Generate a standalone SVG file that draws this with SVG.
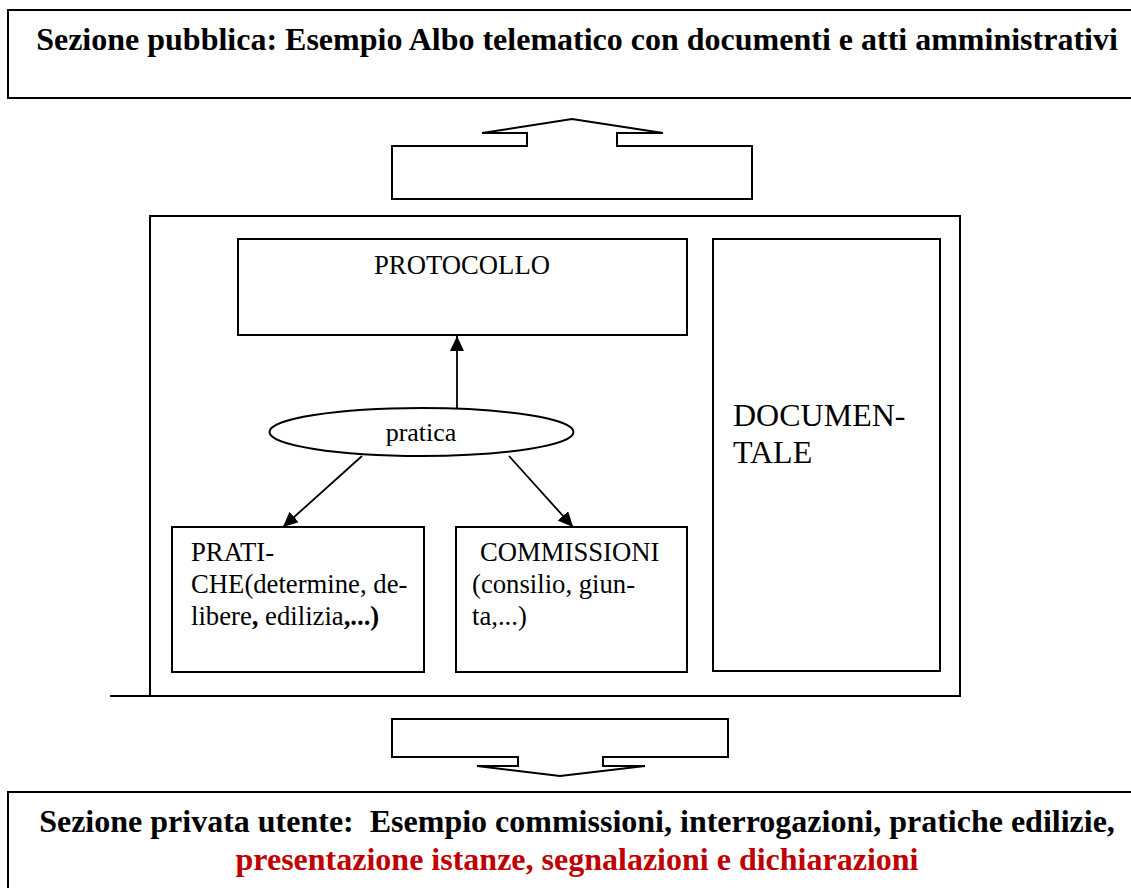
<svg xmlns="http://www.w3.org/2000/svg" width="1131" height="888" viewBox="0 0 1131 888">
<style>
.box{fill:#fff;stroke:#000;stroke-width:2}
.ln{fill:none;stroke:#000;stroke-width:2}
.con{fill:none;stroke:#000;stroke-width:1.8}
text{font-family:'Liberation Serif','Times New Roman',Times,serif;fill:#000}
.big{font-size:32px;font-weight:bold}
.mid{font-size:26.7px}
.red{fill:#C00000}
</style>
<defs>
<marker id="ah" markerUnits="userSpaceOnUse" markerWidth="16" markerHeight="14" refX="15" refY="7" orient="auto">
<path d="M0,0 L15,7 L0,14 Z" fill="#000"/>
</marker>
</defs>
<rect width="1131" height="888" fill="#fff"/>

<g id="sezione-pubblica">
<rect class="box" x="8" y="10" width="1140" height="88"/>
<text class="big" font-family="Liberation Serif, serif" x="577" y="50" text-anchor="middle">Sezione pubblica: Esempio Albo telematico con documenti e atti amministrativi</text>
</g>

<g id="freccia-su">
<path class="ln" d="M392,146 H527 V133 H482 L572,119 L663,133 H617 V146 H752 V199 H392 Z"/>
</g>

<g id="cornice">
<path class="ln" d="M150,696 V216 H960 V696 H110"/>
</g>

<g id="protocollo">
<rect class="box" x="238" y="239" width="449" height="96"/>
<text class="mid" font-family="Liberation Serif, serif" x="462" y="274" text-anchor="middle">PROTOCOLLO</text>
</g>

<g id="documentale">
<rect class="box" x="713" y="239" width="227" height="432"/>
<text font-family="Liberation Serif, serif" font-size="32" x="733" y="426">DOCUMEN-</text>
<text font-family="Liberation Serif, serif" font-size="32" x="733" y="463">TALE</text>
</g>

<g id="pratica">
<ellipse class="box" cx="421.5" cy="432" rx="152" ry="24"/>
<text font-family="Liberation Serif, serif" font-size="26" x="421" y="441" text-anchor="middle">pratica</text>
</g>

<g id="pratiche">
<rect class="box" x="172" y="527" width="252" height="145"/>
<text class="mid" font-family="Liberation Serif, serif" x="191" y="561">PRATI-</text>
<text class="mid" font-family="Liberation Serif, serif" x="191" y="593">CHE(determine, de-</text>
<text class="mid" font-family="Liberation Serif, serif" x="191" y="625">libere<tspan font-weight="bold">,</tspan> edilizia<tspan font-weight="bold">,...)</tspan></text>
</g>

<g id="commissioni">
<rect class="box" x="456" y="527" width="231" height="145"/>
<text class="mid" font-family="Liberation Serif, serif" x="480" y="561">COMMISSIONI</text>
<text class="mid" font-family="Liberation Serif, serif" x="472" y="593">(consilio, giun-</text>
<text class="mid" font-family="Liberation Serif, serif" x="472" y="625">ta,...)</text>
</g>

<g id="connettori">
<line class="con" x1="457" y1="408" x2="457" y2="336" marker-end="url(#ah)"/>
<line class="con" x1="362" y1="456" x2="283" y2="527" marker-end="url(#ah)"/>
<line class="con" x1="509" y1="456" x2="573" y2="527" marker-end="url(#ah)"/>
</g>

<g id="freccia-giu">
<path class="ln" d="M392,719 H728 V757 H603 V766 H645 L560,776 L477,766 H518 V757 H392 Z"/>
</g>

<g id="sezione-privata">
<rect class="box" x="8" y="792" width="1140" height="110"/>
<text class="big" font-family="Liberation Serif, serif" x="577" y="832" text-anchor="middle" xml:space="preserve">Sezione privata utente:  Esempio commissioni, interrogazioni, pratiche edilizie,</text>
<text class="big red" font-family="Liberation Serif, serif" x="577" y="870" text-anchor="middle">presentazione istanze, segnalazioni e dichiarazioni</text>
</g>
</svg>
